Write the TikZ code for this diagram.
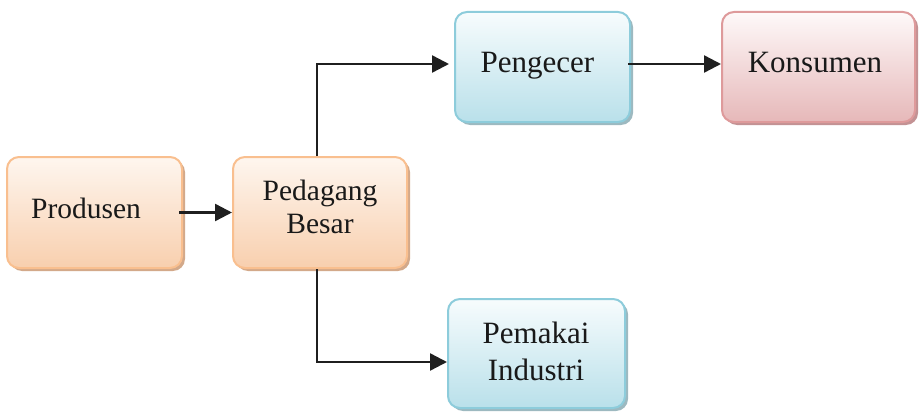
\documentclass[tikz,border=0pt]{standalone}
\usepackage{fontspec}
\setmainfont{Liberation Serif}
\usetikzlibrary{arrows.meta,shadows}
\definecolor{orEdge}{HTML}{F9BF8F}
\definecolor{orTop}{HTML}{FEF6EF}
\definecolor{orBot}{HTML}{F8CFAE}
\definecolor{orShadow}{HTML}{D3A98A}
\definecolor{blEdge}{HTML}{8DCCDB}
\definecolor{blTop}{HTML}{F7FCFD}
\definecolor{blBot}{HTML}{B9E0EA}
\definecolor{blShadow}{HTML}{9DB9C0}
\definecolor{pkEdge}{HTML}{DE9A9B}
\definecolor{pkTop}{HTML}{FEF9F9}
\definecolor{pkBot}{HTML}{E6B8B9}
\definecolor{pkShadow}{HTML}{C39294}
\tikzset{
  box/.style={draw, line width=2pt, rounded corners=12pt, minimum height=110pt, inner sep=0pt},
  orbox/.style={box, draw=orEdge, top color=orTop, bottom color=orBot,
    drop shadow={shadow xshift=3pt, shadow yshift=-3pt, fill=orShadow, opacity=1}},
  blbox/.style={box, draw=blEdge, top color=blTop, bottom color=blBot,
    drop shadow={shadow xshift=3pt, shadow yshift=-3pt, fill=blShadow, opacity=1}},
  pkbox/.style={box, draw=pkEdge, top color=pkTop, bottom color=pkBot,
    drop shadow={shadow xshift=3pt, shadow yshift=-3pt, fill=pkShadow, opacity=1}},
  txtS/.style={anchor=base, inner sep=0pt, font=\fontsize{29.5}{33}\selectfont, text=black!90},
  txtL/.style={anchor=base, inner sep=0pt, font=\fontsize{31}{37}\selectfont, text=black!90},
  flow/.style={line width=2.4pt, draw=black!88, -{Triangle[length=17pt,width=17pt]}}
}
\begin{document}
\begin{tikzpicture}[x=1pt,y=-1pt]
\useasboundingbox (0,0) rectangle (919,412);
% boxes
\node[orbox, minimum width=175pt, minimum height=111pt] (prod) at (94.5,212.5) {};
\node[orbox, minimum width=174pt, minimum height=111pt] (ped) at (320,212.5) {};
\node[blbox, minimum width=175pt] (peng) at (542.5,67) {};
\node[pkbox, minimum width=193pt] (kons) at (818.5,67) {};
\node[blbox, minimum width=177pt, minimum height=109pt] (pem) at (536.5,353.5) {};
% labels
\node[txtS] (prodT) at (86,218) {Produsen};
\node[txtS] (pedT1) at (320,200) {Pedagang};
\node[txtS] (pedT2) at (320,233) {Besar};
\node[txtL] (pengT) at (537.5,73) {Pengecer};
\node[txtL] (konsT) at (815,73) {Konsumen};
\node[txtL] (pemT1) at (536,343) {Pemakai};
\node[txtL] (pemT2) at (536,380) {Industri};
% connectors
\draw[flow, shorten <=-4pt] (prod.east) -- (ped.west);
\draw[flow, shorten >=5pt] ([xshift=-3pt]ped.north) |- ([yshift=3pt]peng.west);
\draw[flow] ([xshift=-3pt]ped.south) |- ([yshift=-8.5pt]pem.west);
\draw[flow, shorten <=-3pt] ([yshift=3pt]peng.east) -- ([yshift=3pt]kons.west);
\end{tikzpicture}
\end{document}
